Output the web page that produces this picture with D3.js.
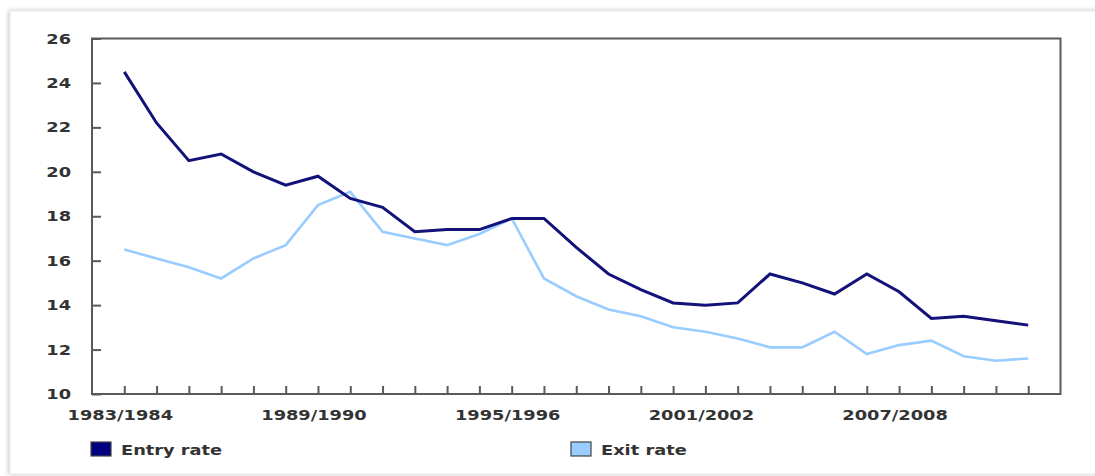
<!DOCTYPE html>
<html>
<head>
<meta charset="utf-8">
<script src="https://cdn.jsdelivr.net/npm/d3@7"></script>
<style>
  html, body { margin: 0; padding: 0; background: #fff; }
  svg { display: block; }
  text { font-family: "DejaVu Sans", Verdana, sans-serif; font-weight: bold; fill: #333; }
</style>
</head>
<body>
<svg id="chart" width="1095" height="476"></svg>
<script>
// Fiscal years shown on the horizontal axis
const years = [
  "1983/1984","1984/1985","1985/1986","1986/1987","1987/1988","1988/1989",
  "1989/1990","1990/1991","1991/1992","1992/1993","1993/1994","1994/1995",
  "1995/1996","1996/1997","1997/1998","1998/1999","1999/2000","2000/2001",
  "2001/2002","2002/2003","2003/2004","2004/2005","2005/2006","2006/2007",
  "2007/2008","2008/2009","2009/2010","2010/2011","2011/2012"
];
// Rates (percent)
const entryRate = [24.5, 22.2, 20.5, 20.8, 20.0, 19.4, 19.8, 18.8, 18.4, 17.3,
  17.4, 17.4, 17.9, 17.9, 16.6, 15.4, 14.7, 14.1, 14.0, 14.1, 15.4, 15.0, 14.5,
  15.4, 14.6, 13.4, 13.5, 13.3, 13.1];
const exitRate = [16.5, 16.1, 15.7, 15.2, 16.1, 16.7, 18.5, 19.1, 17.3, 17.0,
  16.7, 17.2, 17.9, 15.2, 14.4, 13.8, 13.5, 13.0, 12.8, 12.5, 12.1, 12.1, 12.8,
  11.8, 12.2, 12.4, 11.7, 11.5, 11.6];
const yTicks = [10, 12, 14, 16, 18, 20, 22, 24, 26];
const xLabels = ["1983/1984", "1989/1990", "1995/1996", "2001/2002", "2007/2008"];
const seriesNames = ["Entry rate", "Exit rate"];
const seriesColors = ["#12127a", "#99ccff"];

const svg = d3.select("#chart");
const SX = 1.27; // horizontal stretch applied to the labels

// card with a soft edge
const defs = svg.append("defs");
const f = defs.append("filter").attr("id", "shadow")
  .attr("x", "-5%").attr("y", "-5%").attr("width", "110%").attr("height", "110%");
f.append("feDropShadow").attr("dx", -1).attr("dy", 0).attr("stdDeviation", 2)
  .attr("flood-color", "#000").attr("flood-opacity", 0.25);
svg.append("rect").attr("x", 10).attr("y", 11).attr("width", 1100).attr("height", 463)
  .attr("fill", "#fff").attr("stroke", "#e6e6e6").attr("filter", "url(#shadow)");

const m = { left: 92, top: 38.5, right: 1060.5, bottom: 394 };

const x = d3.scalePoint().domain(years).range([m.left, m.right]).padding(1);
const y = d3.scaleLinear().domain([10, 26]).range([m.bottom, m.top]);

// plot frame
svg.append("rect").attr("x", m.left).attr("y", m.top)
  .attr("width", m.right - m.left).attr("height", m.bottom - m.top)
  .attr("fill", "none").attr("stroke", "#5a5a5a").attr("stroke-width", 2);

// y axis ticks (pointing inward) and labels
const yAxis = svg.append("g").attr("transform", `translate(${m.left},0)`)
  .call(d3.axisRight(y).tickValues(yTicks).tickSize(9).tickFormat(""));
yAxis.select(".domain").remove();
yAxis.selectAll(".tick line").attr("stroke", "#5a5a5a").attr("stroke-width", 2);
svg.append("g").selectAll("text").data(yTicks).join("text")
  .attr("transform", d => `translate(71,${y(d) + 5}) scale(${SX},1)`)
  .attr("text-anchor", "end").attr("font-size", 14).text(d => d);

// x axis ticks (pointing up into the plot)
const xAxis = svg.append("g").attr("transform", `translate(0,${m.bottom})`)
  .call(d3.axisTop(x).tickSize(8).tickFormat(""));
xAxis.select(".domain").remove();
xAxis.selectAll(".tick line").attr("stroke", "#5a5a5a").attr("stroke-width", 2);
svg.append("g").selectAll("text").data(xLabels).join("text")
  .attr("transform", d => `translate(${x(d) - 4},420) scale(${SX},1)`)
  .attr("text-anchor", "middle").attr("font-size", 14).text(d => d);

// series lines
const line = d3.line().x((d, i) => x(years[i])).y(d => y(d));
[exitRate, entryRate].forEach((vals, k) => {
  const idx = k === 0 ? 1 : 0;
  svg.append("path").datum(vals).attr("d", line)
    .attr("fill", "none").attr("stroke", seriesColors[idx])
    .attr("stroke-width", idx === 0 ? 3 : 2.6)
    .attr("stroke-linejoin", "miter");
});

// legend
const legendX = [91, 571];
seriesNames.forEach((name, i) => {
  svg.append("rect").attr("x", legendX[i]).attr("y", 442).attr("width", 20).attr("height", 14)
    .attr("fill", i === 0 ? "#000080" : seriesColors[1]).attr("stroke", "#444").attr("stroke-width", 1.2);
  svg.append("text").attr("transform", `translate(${legendX[i] + 30},455) scale(${SX},1)`)
    .attr("font-size", 14).text(name);
});
</script>
</body>
</html>
